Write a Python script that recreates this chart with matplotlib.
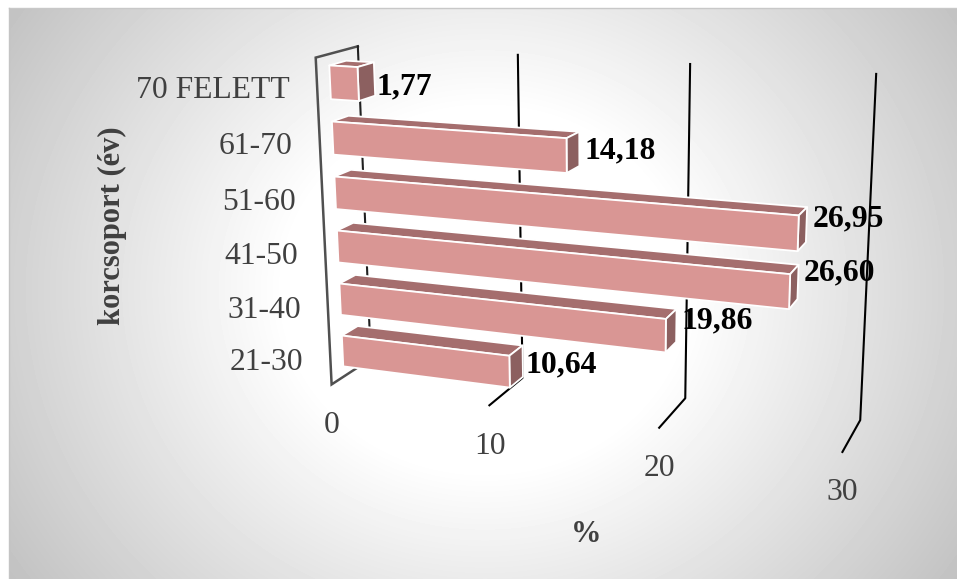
import numpy as np
import matplotlib
matplotlib.use("Agg")
import matplotlib.pyplot as plt
from matplotlib.patches import Polygon

# ---- data ----
categories = ["21-30", "31-40", "41-50", "51-60", "61-70", "70 FELETT"]
values = [10.64, 19.86, 26.60, 26.95, 14.18, 1.77]
value_labels = ["10,64", "19,86", "26,60", "26,95", "14,18", "1,77"]
value_ticks = [0, 10, 20, 30]
y_title = "korcsoport (év)"
x_title = "%"

W, H = 957, 579
plt.rcParams['font.family'] = ['Liberation Serif', 'DejaVu Serif']

# ---- perspective camera, calibrated on the reference's frame corners ----
# (value, category position, depth) -> screen pixel
calib = [
    ((0, 6, 1), (357, 47)), ((10, 6, 1), (518.3, 55)), ((20, 6, 1), (690.7, 64)), ((30, 6, 1), (875.7, 73.3)),
    ((0, 0, 1), (370.5, 358)), ((10, 0, 1), (523.3, 378)), ((20, 0, 1), (685.3, 398.3)), ((30, 0, 1), (860, 420.7)),
    ((0, 0, 0), (331.7, 385)), ((10, 0, 0), (489, 405)), ((20, 0, 0), (659.3, 427.7)), ((30, 0, 0), (842.3, 452)),
    ((0, 6, 0), (316, 57.3)),
]
A, b = [], []
for (X, Y, Z), (u, v) in calib:
    A.append([X, Y, Z, 1, 0, 0, 0, 0, -u * X, -u * Y, -u * Z]); b.append(u)
    A.append([0, 0, 0, 0, X, Y, Z, 1, -v * X, -v * Y, -v * Z]); b.append(v)
P = np.append(np.linalg.lstsq(np.array(A, float), np.array(b, float), rcond=None)[0], 1).reshape(3, 4)


def project(v, c, z):
    p = P @ np.array([v, c, z, 1.0])
    return p[0] / p[2], p[1] / p[2]


fig = plt.figure(figsize=(W / 100, H / 100), dpi=100)
ax = fig.add_axes([0, 0, 1, 1])
ax.set_xlim(0, W)
ax.set_ylim(H, 0)
ax.axis('off')

# ---- background: white page, panel with radial gradient ----
px0, px1, py0, py1 = 9, 957, 8, 579
xx, yy = np.meshgrid(np.arange(px0, px1) + .5, np.arange(py0, py1) + .5)
r = np.hypot((xx - 485) * 0.9, yy - 290)
shade = np.clip(1 - np.clip(r - 180, 0, None) * 0.00072, 0, 1)
ax.imshow(shade, extent=(px0, px1, py1, py0), cmap='gray', vmin=0, vmax=1,
          aspect='auto', zorder=0, interpolation='bilinear')
ax.set_xlim(0, W)
ax.set_ylim(H, 0)
ax.plot([px0, px1], [py0, py0], color='#c8c8c8', lw=1, zorder=1)
ax.plot([px0, px0], [py0, py1], color='#c4c4c4', lw=1, zorder=1)

# ---- frame and gridlines ----
frame_col = '#505050'
f = [project(0, 6, 1), project(0, 6, 0), project(0, 0, 0), project(0, 0, 1)]
ax.plot(*zip(*f), color=frame_col, lw=1.8, zorder=2, solid_joinstyle='miter')
p_top, p_bot = project(0, 6, 1), project(0, 0, 1)
ax.plot([p_top[0], p_bot[0]], [p_top[1], p_bot[1]], color='#202020', lw=1.5, zorder=2)
for t in value_ticks[1:]:
    pts = [project(t, 6, 1), project(t, 0, 1), project(t, 0, 0)]
    ax.plot(*zip(*pts), color='black', lw=1.5, zorder=2)

# ---- bars ----
col_front, col_top, col_side = '#D99694', '#A56E6E', '#8C6060'
gap = 0.2
z0, z1 = 0.30, 0.70
edge = dict(edgecolor='white', linewidth=1.3, joinstyle='round')
nudges = [(3, 4), (5, -5), (6, -9), (6, -6), (5, 2), (2, 8)]
for i in reversed(range(len(values))):
    v = values[i]
    c0, c1 = i + gap, i + 1 - gap
    ax.add_patch(Polygon([project(0, c1, z0), project(v, c1, z0), project(v, c1, z1), project(0, c1, z1)],
                         facecolor=col_top, zorder=3 + (6 - i) * .1, **edge))
    ax.add_patch(Polygon([project(v, c0, z0), project(v, c1, z0), project(v, c1, z1), project(v, c0, z1)],
                         facecolor=col_side, zorder=3 + (6 - i) * .1, **edge))
    ax.add_patch(Polygon([project(0, c0, z0), project(v, c0, z0), project(v, c1, z0), project(0, c1, z0)],
                         facecolor=col_front, zorder=3.05 + (6 - i) * .1, **edge))
    x, y = project(v, (c0 + c1) / 2, z1)
    ax.text(x + nudges[i][0], y + nudges[i][1], value_labels[i], ha='left', va='center',
            fontsize=22.9, fontweight='bold', color='black', zorder=6)

# ---- axis texts ----
grey = '#404040'
for i, name in enumerate(categories):
    x, y = project(0, i + .5, 0)
    ax.text(x - 27, y + 4, name, ha='right', va='center', fontsize=22.8, color=grey, zorder=6)
for t in value_ticks:
    x, y = project(t, 0, 0)
    ax.text(x + (1 if t == 10 else 0), y + 41, str(t), ha='center', va='center', fontsize=22.8, color=grey, zorder=6)
ax.text(112, 226, y_title, rotation=90, ha='center', va='center', fontsize=22,
        fontweight='bold', color=grey, zorder=6)
ax.text(586, 535, x_title, ha='center', va='center', fontsize=22, fontweight='bold', color=grey, zorder=6)

fig.savefig('out.png', dpi=100)
